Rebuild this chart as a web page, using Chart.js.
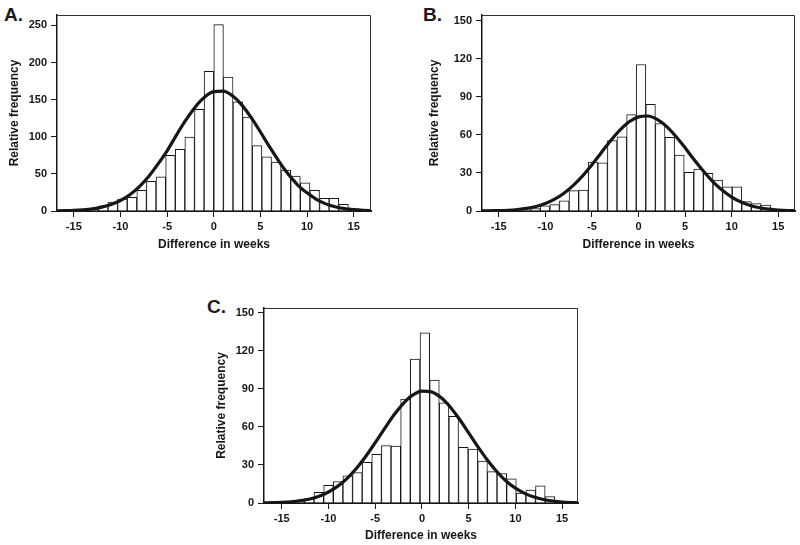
<!DOCTYPE html>
<html>
<head>
<meta charset="utf-8">
<script src="https://cdn.jsdelivr.net/npm/chart.js@4.4.1/dist/chart.umd.min.js"></script>
<style>
  body { margin: 0; background: #fff; width: 800px; height: 545px; position: relative; overflow: hidden; font-family: "Liberation Sans", Arial, sans-serif; }
  canvas { position: absolute; }
  .panel-tag { position: absolute; font-weight: bold; font-size: 19px; line-height: 19px; color: #1a1a1a; }
</style>
</head>
<body>
<div class="panel-tag" style="left:4px;top:5px">A.</div>
<div class="panel-tag" style="left:423px;top:5px">B.</div>
<div class="panel-tag" style="left:207px;top:297px">C.</div>
<canvas id="chart-a" width="390" height="260" style="left:0;top:0"></canvas>
<canvas id="chart-b" width="380" height="260" style="left:420px;top:0"></canvas>
<canvas id="chart-c" width="400" height="285" style="left:190px;top:260px"></canvas>
<script>
// bin centres (weeks) and bar heights
const binsA = [-15.97, -14.94, -13.91, -12.88, -11.85, -10.82, -9.79, -8.76, -7.73, -6.70, -5.67, -4.64, -3.61, -2.58, -1.55, -0.52,
  0.52, 1.55, 2.58, 3.61, 4.64, 5.67, 6.70, 7.73, 8.76, 9.79, 10.82, 11.85, 12.88, 13.91, 14.94];
const countsA = [1, 1, 2, 3, 7, 12, 16, 18.5, 28, 40, 46, 75, 83, 99.5, 137, 188,
  251, 180.5, 147, 126.5, 88, 73, 66, 55, 47, 38, 28, 17, 17, 9, 2];

const binsB = [-16.21, -15.18, -14.15, -13.12, -12.09, -11.06, -10.03, -9.00, -7.97, -6.94, -5.91, -4.88, -3.85, -2.82, -1.79, -0.76,
  0.27, 1.30, 2.33, 3.36, 4.39, 5.42, 6.45, 7.48, 8.51, 9.54, 10.57, 11.60, 12.63, 13.66, 14.69];
const countsB = [1, 1, 1, 1, 1, 2, 4, 5, 8, 16, 16.5, 38.5, 38, 55.5, 58.5, 76,
  115.5, 84, 69, 58, 44, 30.5, 33, 29.7, 24.4, 19, 19, 7.4, 5.8, 4.7, 1.3];

const binsC = [-15.15, -14.12, -13.09, -12.06, -11.03, -10.00, -8.97, -7.94, -6.91, -5.88, -4.85, -3.82, -2.79, -1.76, -0.73,
  0.31, 1.34, 2.37, 3.40, 4.43, 5.46, 6.49, 7.52, 8.55, 9.58, 10.61, 11.64, 12.67, 13.70, 14.73];
const countsC = [0.5, 1, 1.3, 3.4, 8.4, 14, 17, 21.5, 24, 32, 38.5, 45.4, 45, 82, 113.5,
  134.3, 97, 79, 68.5, 44, 42.5, 33, 24.7, 23.2, 19, 7.9, 10.2, 13.6, 5, 1];

// fitted curve, sampled once per week
const fitX = [-17, -16, -15, -14, -13, -12, -11, -10, -9, -8, -7, -6, -5, -4, -3, -2, -1,
  0, 1, 2, 3, 4, 5, 6, 7, 8, 9, 10, 11, 12, 13, 14, 15, 16, 17];
const fitA = [0.2, 0.4, 0.8, 1.6, 2.9, 5.2, 8.7, 14.1, 21.9, 32.5, 46.2, 62.9, 81, 102.3, 122.3, 139.9, 153.2,
  160.7, 161.4, 155.2, 143, 126, 106.4, 86, 66.6, 49.4, 35, 24.5, 15.8, 9.6, 5.8, 3.3, 1.8, 0.9, 0.5];
const fitB = [0.1, 0.2, 0.3, 0.6, 1.2, 2.1, 3.6, 5.9, 9.3, 14, 20.2, 27.7, 36.5, 46, 55.4, 63.8, 70.3,
  74.2, 74.9, 72.2, 66.7, 58.9, 49.8, 40.2, 31.1, 23, 16.3, 11, 7.1, 4.4, 2.6, 1.5, 0.8, 0.4, 0.2];
const fitC = [0.1, 0.3, 0.5, 1, 1.9, 3.2, 5.4, 8.7, 13.3, 19.5, 27.4, 36.9, 47.6, 58.7, 69.4, 78.5, 85.1,
  88.3, 87.7, 83.4, 76, 66.3, 55.4, 44.3, 33.9, 24.9, 17.4, 11.7, 7.6, 4.7, 2.8, 1.6, 0.8, 0.4, 0.2];

const xTicks = [-15, -10, -5, 0, 5, 10, 15];
const yTicksA = [0, 50, 100, 150, 200, 250];
const yTicksBC = [0, 30, 60, 90, 120, 150];

const INK = '#161616';
const TICK_FONT = { family: '"Liberation Sans", Arial, sans-serif', size: 11, weight: 'bold' };
const TITLE_FONT = { family: '"Liberation Sans", Arial, sans-serif', size: 12, weight: 'bold' };

// thin top/right frame lines around the plot area
const frame = {
  id: 'frame',
  afterDraw(chart) {
    const { ctx, chartArea: a } = chart;
    ctx.save();
    ctx.strokeStyle = '#333';
    ctx.lineWidth = 1;
    ctx.beginPath();
    ctx.moveTo(a.left, a.top + 0.5);
    ctx.lineTo(a.right - 0.5, a.top + 0.5);
    ctx.lineTo(a.right - 0.5, a.bottom);
    ctx.stroke();
    ctx.restore();
  }
};

function makeHist(id, bins, counts, fit, yTicks, box) {
  return new Chart(document.getElementById(id), {
    type: 'bar',
    data: {
      datasets: [
        { type: 'line', data: fitX.map((x, i) => ({ x, y: fit[i] })), borderColor: INK, borderWidth: 3.2,
          pointRadius: 0, cubicInterpolationMode: 'monotone', fill: false, order: 0 },
        { type: 'bar', data: bins.map((x, i) => ({ x, y: counts[i] })), backgroundColor: '#fff', borderColor: INK,
          borderWidth: 1, barPercentage: 1, categoryPercentage: 1, order: 1 }
      ]
    },
    options: {
      responsive: false, animation: false, devicePixelRatio: 1,
      layout: { padding: box.pad },
      plugins: { legend: { display: false }, tooltip: { enabled: false } },
      scales: {
        x: {
          type: 'linear', offset: false, min: box.x[0], max: box.x[1],
          afterBuildTicks: s => { s.ticks = xTicks.map(v => ({ value: v })); },
          afterFit: s => { s.height = box.xH; },
          grid: { display: true, drawOnChartArea: false, drawTicks: true, tickLength: 6, color: INK, tickColor: INK, lineWidth: 1, offset: false },
          border: { display: true, color: INK, width: 2 },
          ticks: { color: INK, font: TICK_FONT, padding: 3, maxRotation: 0, autoSkip: false },
          title: { display: true, text: 'Difference in weeks', color: INK, font: TITLE_FONT, padding: { top: 0, bottom: box.xTitlePad } }
        },
        y: {
          min: 0, max: box.yMax,
          afterBuildTicks: s => { s.ticks = yTicks.map(v => ({ value: v })); },
          afterFit: s => { s.width = box.yW; },
          grid: { display: true, drawOnChartArea: false, drawTicks: true, tickLength: 6, color: INK, tickColor: INK, lineWidth: 1 },
          border: { display: true, color: INK, width: 1.5 },
          ticks: { color: INK, font: TICK_FONT, padding: 4 },
          title: { display: true, text: 'Relative frequency', color: INK, font: TITLE_FONT, padding: { top: box.yTitlePad, bottom: 0 } }
        }
      }
    },
    plugins: [frame]
  });
}

makeHist('chart-a', binsA, countsA, fitA, yTicksA,
  { x: [-16.8, 16.85], yMax: 264, pad: { left: 0, top: 15, right: 19, bottom: 0 }, yW: 57, xH: 49, xTitlePad: 8.5, yTitlePad: 7.8 });
makeHist('chart-b', binsB, countsB, fitB, yTicksBC,
  { x: [-16.8, 16.8], yMax: 154.5, pad: { left: 0, top: 15, right: 5, bottom: 0 }, yW: 62, xH: 49, xTitlePad: 8.5, yTitlePad: 7.8 });
makeHist('chart-c', binsC, countsC, fitC, yTicksBC,
  { x: [-16.9, 16.7], yMax: 153.9, pad: { left: 0, top: 48, right: 12, bottom: 0 }, yW: 74, xH: 42, xTitlePad: 1.8, yTitlePad: 24.5 });
</script>
</body>
</html>
